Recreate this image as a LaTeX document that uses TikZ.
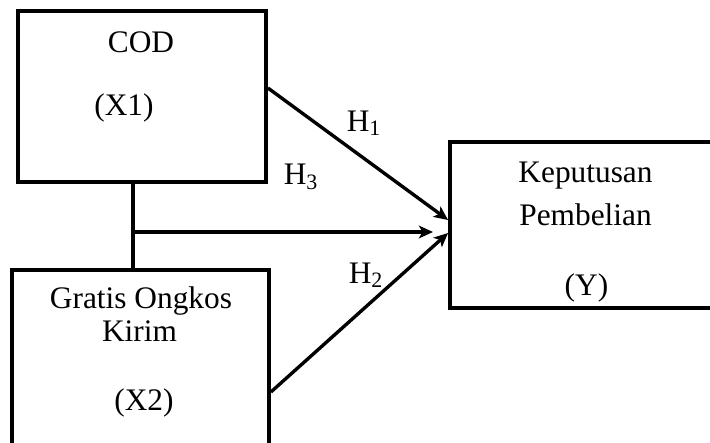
\documentclass[tikz,border=0pt]{standalone}
\usepackage{fontspec}
\setmainfont{Liberation Serif}
\usetikzlibrary{arrows.meta}

\newcommand*{\pxu}{0.025cm}

\tikzset{
  box/.style={draw, rectangle, line width=2.7pt, inner sep=0pt},
  txt/.style={anchor=base, inner sep=0pt, font=\fontsize{22.3}{26}\selectfont},
  hyp/.style={inner sep=0pt, font=\fontsize{22.3}{26}\selectfont},
  link/.style={line width=2.4pt},
  arr/.style={link, -{Stealth[length=10pt, width=9pt, inset=2.5pt]}},
}

\begin{document}
\begin{tikzpicture}[x=\pxu, y=-\pxu]
	\useasboundingbox (0,0) rectangle (710,442);
	\clip (0,0) rectangle (710,442);

	% variable boxes
	\node [box, minimum width=248*\pxu, minimum height=171*\pxu] (cod) at (142,96.5) {};
	\node [box, minimum width=257*\pxu, minimum height=200*\pxu] (gok) at (140.5,370) {};
	\node [box, minimum width=280*\pxu, minimum height=166*\pxu] (kep) at (590,225) {};

	% box texts
	\node [txt] (codname) at (141,52) {COD};
	\node [txt] (codvar) at (124,115) {(X1)};
	\node [txt] (gokname) at (141,308) {Gratis Ongkos};
	\node [txt] (gokname2) at (139.5,341) {Kirim};
	\node [txt] (gokvar) at (144,410) {(X2)};
	\node [txt] (kepname) at (585.5,182) {Keputusan};
	\node [txt] (kepname2) at (585.5,225) {Pembelian};
	\node [txt] (kepvar) at (586.5,295) {(Y)};

	% hypotheses
	\coordinate (jn) at (133,232);
	\coordinate (h3end) at (433,232);
	\draw [link] (cod.south -| jn) -- (gok.north -| jn);
	\draw [arr] (jn) -- (h3end);
	\draw [arr] ([yshift=8.5*\pxu]cod.east) -- ([yshift=5*\pxu]kep.west);
	\draw [arr] ([yshift=-22*\pxu]gok.east) -- ([yshift=-8*\pxu]kep.west);

	\node [hyp] (h1) at (364,123) {H\textsubscript{1}};
	\node [hyp] (h3) at (301,177) {H\textsubscript{3}};
	\node [hyp] (h2) at (366,275) {H\textsubscript{2}};
\end{tikzpicture}
\end{document}
